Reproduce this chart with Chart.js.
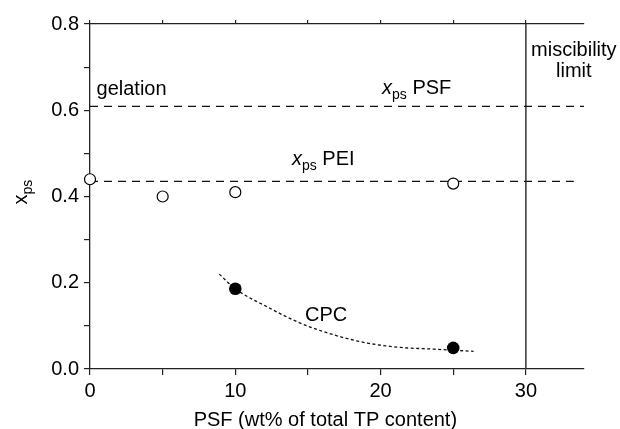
<!DOCTYPE html>
<html>
<head>
<meta charset="utf-8">
<script src="https://cdn.jsdelivr.net/npm/chart.js@4.4.0/dist/chart.umd.min.js"></script>
<style>
  html, body { margin: 0; padding: 0; background: #fff; }
  #wrap { width: 620px; height: 429px; }
</style>
</head>
<body>
<div id="wrap"><canvas id="chart" width="620" height="429"></canvas></div>
<script>
// open circles: x_ps of the blends
var openX = [0, 5, 10, 25];
var openY = [0.44, 0.40, 0.41, 0.43];
// filled circles: CPC
var cpcX = [10, 25];
var cpcY = [0.186, 0.049];
// dotted guide through the CPC points
var curveX = [8.9, 10, 12.2, 14.5, 16.8, 19.1, 21.4, 23.7, 26.4];
var curveY = [0.22, 0.186, 0.144, 0.106, 0.079, 0.060, 0.050, 0.046, 0.041];
// reference levels
var psfLevel = [0.609, 0.609];
var psfRange = [0, 34];
var peiLevel = [0.435, 0.435];
var peiRange = [0, 33.3];
var limitX = [30, 30];
var limitY = [0, 0.8];

var FONT = '"Liberation Sans", Arial, Helvetica, sans-serif';
var INK = '#111';

function pts(xs, ys) {
    var out = [];
    for (var i = 0; i < xs.length; i++) out.push({x: xs[i], y: ys[i]});
    return out;
}

// draws "x" + subscript "ps" + optional suffix, returns end x
function drawXps(ctx, px, py, suffix, italic) {
    ctx.font = (italic ? 'italic ' : '') + '20px ' + FONT;
    ctx.fillText('x', px, py);
    px += ctx.measureText('x').width;
    ctx.font = '14px ' + FONT;
    ctx.fillText('ps', px, py + 5);
    px += ctx.measureText('ps').width;
    if (suffix) {
        ctx.font = '20px ' + FONT;
        ctx.fillText(suffix, px, py);
        px += ctx.measureText(suffix).width;
    }
    return px;
}

var labelsPlugin = {
    id: 'labels',
    afterDraw: function(chart) {
        var ctx = chart.ctx;
        var xs = chart.scales.x, ys = chart.scales.y;
        ctx.save();
        ctx.fillStyle = '#000';
        ctx.textBaseline = 'alphabetic';
        ctx.textAlign = 'left';

        ctx.font = '20px ' + FONT;
        ctx.fillText('gelation', xs.getPixelForValue(0.45), ys.getPixelForValue(0.636));
        ctx.fillText('CPC', xs.getPixelForValue(14.8), ys.getPixelForValue(0.111));

        drawXps(ctx, xs.getPixelForValue(20.1), ys.getPixelForValue(0.638), ' PSF', true);
        drawXps(ctx, xs.getPixelForValue(13.9), ys.getPixelForValue(0.473), ' PEI', true);

        ctx.textAlign = 'center';
        ctx.font = '20px ' + FONT;
        ctx.fillText('miscibility', xs.getPixelForValue(33.3), ys.getPixelForValue(0.726));
        ctx.fillText('limit', xs.getPixelForValue(33.3), ys.getPixelForValue(0.677));

        // x axis title
        ctx.fillText('PSF (wt% of total TP content)', xs.getPixelForValue(16.2), chart.height - 3);

        // y axis title, rotated
        ctx.textAlign = 'left';
        ctx.translate(27, ys.getPixelForValue(0.41));
        ctx.rotate(-Math.PI / 2);
        ctx.font = '20px ' + FONT;
        var w = ctx.measureText('x').width;
        ctx.font = '14px ' + FONT;
        w += ctx.measureText('ps').width;
        drawXps(ctx, -w / 2, 0, '', false);
        ctx.restore();
    }
};

var ctx = document.getElementById('chart');
var chart = new Chart(ctx, {
    type: 'scatter',
    data: {
        datasets: [
            {
                label: 'CPC',
                data: pts(cpcX, cpcY),
                pointRadius: 6.3,
                pointBackgroundColor: '#000',
                pointBorderColor: '#000',
                pointBorderWidth: 0,
                showLine: false,
                clip: false
            },
            {
                label: 'blends',
                data: pts(openX, openY),
                pointRadius: 5.5,
                pointBackgroundColor: '#fff',
                pointBorderColor: '#000',
                pointBorderWidth: 1.2,
                showLine: false,
                clip: false
            },
            {
                label: 'CPC guide',
                data: pts(curveX, curveY),
                showLine: true,
                cubicInterpolationMode: 'monotone',
                borderColor: INK,
                borderWidth: 1.3,
                borderDash: [3, 2.5],
                pointRadius: 0
            },
            {
                label: 'PSF',
                data: pts(psfRange, psfLevel),
                showLine: true,
                borderColor: INK,
                borderWidth: 1.3,
                borderDash: [8, 6],
                pointRadius: 0
            },
            {
                label: 'PEI',
                data: pts(peiRange, peiLevel),
                showLine: true,
                borderColor: INK,
                borderWidth: 1.3,
                borderDash: [8, 6],
                pointRadius: 0
            },
            {
                label: 'miscibility limit',
                data: pts(limitX, limitY),
                showLine: true,
                borderColor: '#333',
                borderWidth: 1.5,
                pointRadius: 0
            }
        ]
    },
    options: {
        responsive: false,
        animation: false,
        layout: { padding: { left: 0, right: 36, top: 24, bottom: 0 } },
        plugins: {
            legend: { display: false },
            tooltip: { enabled: false }
        },
        scales: {
            x: {
                type: 'linear',
                position: 'bottom',
                min: 0,
                max: 34,
                ticks: {
                    stepSize: 5,
                    includeBounds: false,
                    color: '#000',
                    padding: 4,
                    maxRotation: 0,
                    font: { size: 20, family: FONT },
                    callback: function(v) { return v % 10 === 0 ? String(v) : ''; }
                },
                grid: { drawOnChartArea: false, drawTicks: true, tickLength: 6, color: '#222', lineWidth: 1.2 },
                border: { display: true, color: '#222', width: 1.3 },
                afterFit: function(scale) { scale.height = 60; }
            },
            x2: {
                type: 'linear',
                position: 'top',
                min: 0,
                max: 34,
                ticks: { stepSize: 5, includeBounds: false, display: false },
                grid: { drawOnChartArea: false, drawTicks: true, tickLength: 4, color: '#222', lineWidth: 1.2 },
                border: { display: true, color: '#222', width: 1.3 },
                afterFit: function(scale) { scale.height = 0; }
            },
            y: {
                type: 'linear',
                min: 0,
                max: 0.8,
                ticks: {
                    stepSize: 0.1,
                    color: '#000',
                    padding: 5,
                    font: { size: 20, family: FONT },
                    callback: function(v) {
                        return Math.round(v * 10) % 2 === 0 ? v.toFixed(1) : '';
                    }
                },
                grid: { drawOnChartArea: false, drawTicks: true, tickLength: 6, color: '#222', lineWidth: 1.2 },
                border: { display: true, color: '#222', width: 1.3 },
                afterFit: function(scale) { scale.width = 90; }
            }
        }
    },
    plugins: [labelsPlugin]
});
</script>
</body>
</html>
